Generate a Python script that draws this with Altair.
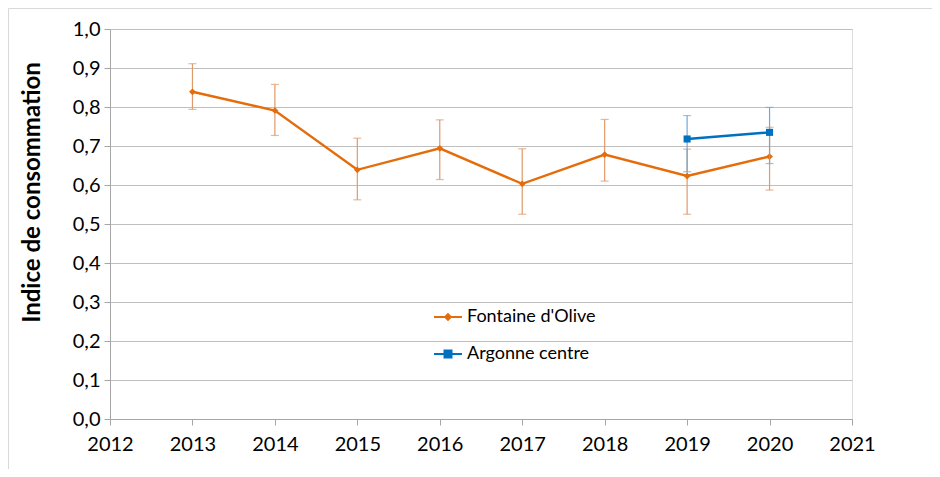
import altair as alt
import pandas as pd

# ---- data ----
series_names = ["Fontaine d'Olive", "Argonne centre"]
years_fo = [2013, 2014, 2015, 2016, 2017, 2018, 2019, 2020]
fo_val = [0.839, 0.791, 0.639, 0.694, 0.603, 0.678, 0.623, 0.673]
fo_lo = [0.794, 0.727, 0.562, 0.614, 0.525, 0.610, 0.525, 0.587]
fo_hi = [0.911, 0.858, 0.720, 0.767, 0.693, 0.768, 0.692, 0.748]

years_ar = [2019, 2020]
ar_val = [0.718, 0.735]
ar_lo = [0.634, 0.655]
ar_hi = [0.778, 0.799]

x_ticks = list(range(2012, 2022))
y_ticks = [round(i / 10, 1) for i in range(0, 11)]

ORANGE = "#E46C0A"
BLUE = "#0070C0"
ORANGE_ERR = "#E09A6A"
BLUE_ERR = "#6FA8DC"
FONT = "Lato"

fo = pd.DataFrame({"year": years_fo, "val": fo_val, "lo": fo_lo, "hi": fo_hi,
                   "serie": series_names[0]})
ar = pd.DataFrame({"year": years_ar, "val": ar_val, "lo": ar_lo, "hi": ar_hi,
                   "serie": series_names[1]})
df = pd.concat([fo, ar], ignore_index=True)

x_scale = alt.Scale(domain=[2012, 2021], nice=False, zero=False)
y_scale = alt.Scale(domain=[0, 1], nice=False)
x_axis = alt.Axis(values=x_ticks, format="d", title=None, grid=False,
                  tickSize=6, tickColor="#A6A6A6", domainColor="#A6A6A6",
                  labelFont=FONT, labelFontSize=20, labelColor="#000000",
                  labelPadding=9, labelFlush=False, labelOverlap=False)
y_axis = alt.Axis(values=y_ticks, title="Indice de consommation",
                  labelExpr="replace(format(datum.value, '.1f'), '.', ',')",
                  grid=True, gridColor="#BFBFBF", gridWidth=1, labelOverlap=False,
                  tickSize=6, tickColor="#A6A6A6", domainColor="#A6A6A6",
                  labelFont=FONT, labelFontSize=20, labelColor="#000000",
                  labelPadding=4, titleFont=FONT, titleFontSize=24,
                  titleFontWeight="bold", titleColor="#000000",
                  titleX=-78, titleY=163, titleAngle=270,
                  titleAlign="center", titleBaseline="middle")


def X():
    return alt.X("year:Q", scale=x_scale, axis=x_axis)


def Y(field):
    return alt.Y(f"{field}:Q", scale=y_scale, axis=y_axis)


base = alt.Chart(df)


def series_layers(name, color, err_color, shape, size):
    d = base.transform_filter(alt.datum.serie == name)
    err = d.mark_rule(color=err_color, strokeWidth=1.2).encode(
        x=X(), y=Y("lo"), y2="hi:Q")
    cap_lo = d.mark_tick(color=err_color, orient="horizontal", size=8, thickness=1.2).encode(
        x=X(), y=Y("lo"))
    cap_hi = d.mark_tick(color=err_color, orient="horizontal", size=8, thickness=1.2).encode(
        x=X(), y=Y("hi"))
    line = d.mark_line(color=color, strokeWidth=2.4).encode(x=X(), y=Y("val"))
    pts = d.mark_point(color=color, filled=True, opacity=1, shape=shape, size=size).encode(
        x=X(), y=Y("val"))
    return [err, cap_lo, cap_hi, line, pts]


# legend symbol: a short line with the series marker in the middle
diamond_line = "M-1,0L1,0M-0.2,0L0,-0.2L0.2,0L0,0.2Z"
square_line = "M-1,0L1,0M-0.25,-0.25L0.25,-0.25L0.25,0.25L-0.25,0.25Z"

leg = alt.Legend(title=None, orient="none", legendX=323, legendY=273,
                 labelFont=FONT, labelFontSize=18, labelColor="#000000",
                 symbolSize=784, symbolStrokeWidth=2, symbolOpacity=1,
                 rowPadding=13, labelOffset=4)
col_scale = alt.Scale(domain=series_names, range=[ORANGE, BLUE])

legend_layer = base.mark_point(filled=False, opacity=0, strokeWidth=2).encode(
    x=X(), y=Y("val"),
    color=alt.Color("serie:N", scale=col_scale, legend=leg),
    fill=alt.Fill("serie:N", scale=col_scale, legend=leg),
    shape=alt.Shape("serie:N",
                    scale=alt.Scale(domain=series_names, range=[diamond_line, square_line]),
                    legend=leg),
)

# light frame around the chart (top and left edges, as in the reference)
frame_top = alt.Chart(pd.DataFrame({"k": [0]})).mark_rule(color="#D9D9D9", strokeWidth=1).encode(
    x=alt.value(-101.5), x2=alt.value(826), y=alt.value(-20.5))
frame_left = alt.Chart(pd.DataFrame({"k": [0]})).mark_rule(color="#D9D9D9", strokeWidth=1).encode(
    x=alt.value(-101.5), y=alt.value(-20.5), y2=alt.value(445))

layers = ([frame_top, frame_left]
          + series_layers(series_names[0], ORANGE, ORANGE_ERR, "diamond", 45)
          + series_layers(series_names[1], BLUE, BLUE_ERR, "square", 50)
          + [legend_layer])

chart = alt.layer(*layers).properties(
    width=742, height=390,
    autosize=alt.AutoSizeParams(type="none"),
    padding={"left": 102, "top": 21, "right": 80, "bottom": 50},
).configure_view(stroke=None).configure(background="#FFFFFF")

chart.save("out.html", embed_options={"renderer": "svg", "actions": False})
